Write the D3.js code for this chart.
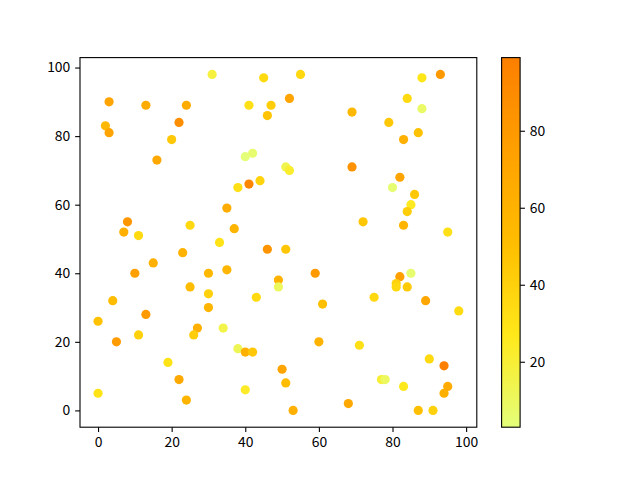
<!DOCTYPE html>
<html>
<head>
<meta charset="utf-8">
<script src="https://cdn.jsdelivr.net/npm/d3@7"></script>
<style>
  body { margin: 0; background: #fff; }
  text { font-family: "Noto Sans CJK SC", "DejaVu Sans", sans-serif; font-size: 13.9px; fill: #000; }
</style>
</head>
<body>
<div id="chart"></div>
<script>
const w = 640;
const h = 480;

// point data
const xs = [31,45,3,13,24,41,47,46,2,3,22,20,16,40,42,44,41,38,35,8,7,11,25,37,33,
            55,88,93,52,69,84,88,79,87,83,51,52,69,82,80,86,85,84,72,83,95,
            46,23,15,10,30,35,25,30,4,43,49,49,30,13,0,27,26,34,5,11,38,40,42,50,19,22,24,0,40,
            51,59,61,75,82,85,81,81,84,89,98,60,71,51,53,68,77,78,83,90,94,95,94,87,91];
const ys = [98,97,90,89,89,89,89,86,83,81,84,79,73,74,75,67,66,65,59,55,52,51,54,53,49,
            98,97,98,91,87,91,88,84,81,79,71,70,71,68,65,63,60,58,55,54,52,
            47,46,43,40,40,41,36,34,32,33,38,36,30,28,26,24,22,24,20,22,18,17,17,12,14,9,3,5,6,
            47,40,31,33,39,40,37,36,36,32,29,20,19,8,0,2,9,9,7,15,13,7,5,0,0];
const cs = [18,35,72,65,66,32,42,47,55,72,88,45,68,3,6,38,95,32,65,82,62,35,36,58,30,
            36,28,80,72,55,35,8,45,48,62,14,22,85,72,5,45,25,42,46,58,32,
            83,60,62,75,55,57,52,40,52,35,60,10,58,80,48,62,42,15,78,40,12,62,45,72,30,68,58,30,24,
            46,80,50,36,76,6,40,36,44,70,34,60,32,52,62,68,20,10,26,35,99,66,62,50,40];

const xTicks = [0,20,40,60,80,100];
const yTicks = [0,20,40,60,80,100];
const cTicks = [20,40,60,80];

// Wistia colormap stops
const wistia = ["#e4ff7a","#ffe81a","#ffbd00","#ffa000","#fc7f00"];

const axLeft = 80, axRight = 476.8, axTop = 57.6, axBottom = 427.2;
const cbLeft = 501.6, cbWidth = 18.5;
const tickLen = 4.86;

const svg = d3.select("#chart").append("svg")
    .attr("width", w)
    .attr("height", h);

const x = d3.scaleLinear().domain([-4.9, 102.9]).range([axLeft, axRight]);
const y = d3.scaleLinear().domain([-4.9, 102.9]).range([axBottom, axTop]);

const cMin = d3.min(cs), cMax = d3.max(cs);
const cmap = d3.scaleLinear()
    .domain(d3.range(5).map(i => cMin + (cMax - cMin) * i / 4))
    .range(wistia)
    .interpolate(d3.interpolateRgb);

// points
svg.append("g").selectAll("circle")
    .data(d3.range(xs.length))
    .join("circle")
    .attr("cx", i => x(xs[i]))
    .attr("cy", i => y(ys[i]))
    .attr("r", 4.6)
    .attr("fill", i => cmap(cs[i]));

// axes
const xAxis = svg.append("g")
    .attr("transform", "translate(0," + axBottom + ")")
    .call(d3.axisBottom(x).tickValues(xTicks).tickSize(tickLen).tickPadding(4.86));
const yAxis = svg.append("g")
    .attr("transform", "translate(" + axLeft + ",0)")
    .call(d3.axisLeft(y).tickValues(yTicks).tickSize(tickLen).tickPadding(4.86));
[xAxis, yAxis].forEach(a => {
    a.select(".domain").remove();
    a.selectAll("line").attr("stroke", "#000").attr("stroke-width", 1.1);
    a.selectAll("text").attr("font-size", null).attr("font-family", null);
});

svg.append("rect")
    .attr("x", axLeft).attr("y", axTop)
    .attr("width", axRight - axLeft).attr("height", axBottom - axTop)
    .attr("fill", "none").attr("stroke", "#000").attr("stroke-width", 1.1);

// colorbar
const grad = svg.append("defs").append("linearGradient")
    .attr("id", "cbgrad")
    .attr("x1", 0).attr("y1", 1).attr("x2", 0).attr("y2", 0);
grad.selectAll("stop")
    .data(d3.range(0, 1.0001, 0.05))
    .join("stop")
    .attr("offset", t => t)
    .attr("stop-color", t => cmap(cMin + t * (cMax - cMin)));

svg.append("rect")
    .attr("x", cbLeft).attr("y", axTop)
    .attr("width", cbWidth).attr("height", axBottom - axTop)
    .attr("fill", "url(#cbgrad)")
    .attr("stroke", "#000").attr("stroke-width", 1.1);

const cy = d3.scaleLinear().domain([cMin, cMax]).range([axBottom, axTop]);
const cAxis = svg.append("g")
    .attr("transform", "translate(" + (cbLeft + cbWidth) + ",0)")
    .call(d3.axisRight(cy).tickValues(cTicks).tickSize(tickLen).tickPadding(4.86));
cAxis.select(".domain").remove();
cAxis.selectAll("line").attr("stroke", "#000").attr("stroke-width", 1.1);
cAxis.selectAll("text").attr("font-size", null).attr("font-family", null);
</script>
</body>
</html>
